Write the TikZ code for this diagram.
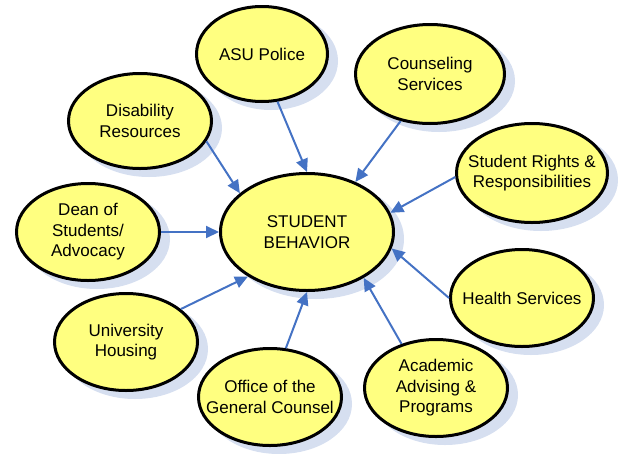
\documentclass[tikz,border=0pt]{standalone}
\usepackage{fontspec}
\setmainfont{Liberation Sans}
\usetikzlibrary{shapes.geometric,arrows.meta}
\definecolor{bubfill}{HTML}{FFFF80}
\definecolor{shadowc}{HTML}{D6DFF0}
\definecolor{arrowc}{HTML}{4472C4}
\tikzset{
  bubble/.style={ellipse, draw=black, line width=3pt, fill=bubfill,
    inner xsep=-20pt, inner ysep=0pt, align=center,
    font=\fontsize{17}{20.5}\selectfont},
  bubshadow/.style={ellipse, draw=shadowc, line width=3pt, fill=shadowc, inner sep=0pt},
  link/.style={draw=arrowc, line width=2pt, -{Triangle[length=13pt,width=12pt]}}
}
% #1 name, #2 x, #3 y, #4 width, #5 height, #6 text
\newcommand\mkshadow[5]{%
  \node[bubshadow, minimum width=#4, minimum height=#5] (#1-sh) at (#2+9,#3+7) {};}
\newcommand\mkbub[6]{%
  \node[bubble, minimum width=#4, minimum height=#5] (#1) at (#2,#3) {#6};}
\begin{document}
\begin{tikzpicture}[x=1pt,y=-1pt]
\useasboundingbox (0,0) rectangle (618,453);
% shadows
\mkshadow{sb}{307}{232}{173pt}{117pt}
\mkshadow{asu}{262}{54}{131pt}{95pt}
\mkshadow{couns}{430}{74}{149pt}{99pt}
\mkshadow{dis}{140}{121}{143pt}{95pt}
\mkshadow{rights}{532}{173}{151pt}{99pt}
\mkshadow{dean}{88}{232}{143pt}{97pt}
\mkshadow{health}{522}{298}{143pt}{97pt}
\mkshadow{housing}{126}{342}{143pt}{97pt}
\mkshadow{office}{270}{397}{143pt}{97pt}
\mkshadow{acad}{436}{388}{143pt}{97pt}
% bubbles
\mkbub{sb}{307}{232}{173pt}{117pt}{STUDENT\\BEHAVIOR}
\mkbub{asu}{262}{54}{131pt}{95pt}{ASU Police}
\mkbub{couns}{430}{74}{149pt}{99pt}{Counseling\\Services}
\mkbub{dis}{140}{121}{143pt}{95pt}{Disability\\Resources}
\mkbub{rights}{532}{173}{151pt}{99pt}{Student Rights \&\\Responsibilities}
\mkbub{dean}{88}{232}{143pt}{97pt}{Dean of\\Students/\\Advocacy}
\mkbub{health}{522}{298}{143pt}{97pt}{Health Services}
\mkbub{housing}{126}{342}{143pt}{97pt}{University\\Housing}
\mkbub{office}{270}{397}{143pt}{97pt}{Office of the\\General Counsel}
\mkbub{acad}{436}{388}{143pt}{97pt}{Academic\\Advising \&\\Programs}
% connectors
\draw[link] (asu.-72) -- (sb.90);
\draw[link] (couns.-122) -- (sb.46);
\draw[link] (dis.-17) -- (sb.150);
\draw[link] (rights.183) -- (sb.13);
\draw[link] (dean.0) -- (sb.180);
\draw[link] (health.180) -- (sb.-11);
\draw[link] (housing.31) -- (sb.-143);
\draw[link] (office.72) -- (sb.-90);
\draw[link] (acad.128) -- (sb.-39);
\end{tikzpicture}
\end{document}
